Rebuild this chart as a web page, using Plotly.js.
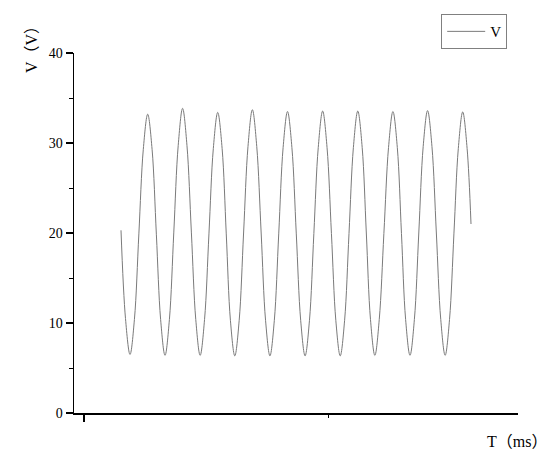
<!DOCTYPE html>
<html>
<head>
<meta charset="utf-8">
<script src="https://cdn.plot.ly/plotly-3.0.1.min.js"></script>
<style>html,body{margin:0;padding:0;background:#fff;}#chart{width:550px;height:466px;}</style>
</head>
<body>
<div id="chart"></div>
<script>
// Time (ms, arbitrary origin at first major tick) and voltage (V)
const tMs = [7.58, 8.5, 9.43, 10.33, 11.24, 12.15, 13.05, 13.95, 14.83, 15.7, 16.6, 17.5, 18.4, 19.3, 20.2, 21.1, 22.0, 22.9, 23.8, 24.7, 25.6, 26.5, 27.4, 28.3, 29.15, 30.0, 30.9, 31.8, 32.7, 33.6, 34.5, 35.4, 36.3, 37.2, 38.1, 39.0, 39.9, 40.8, 41.7, 42.6, 43.5, 44.4, 45.3, 46.2, 47.1, 48.0, 48.9, 49.8, 50.7, 51.6, 52.5, 53.4, 54.3, 55.2, 56.1, 57.0, 57.85, 58.7, 59.6, 60.5, 61.45, 62.4, 63.3, 64.2, 65.05, 65.9, 66.8, 67.7, 68.6, 69.5, 70.4, 71.3, 72.2, 73.1, 74.0, 74.9, 75.8, 76.7, 77.6, 78.5, 79.3];
const voltV = [20.3, 10.5, 6.5, 10.4, 19.9, 29.3, 33.2, 29.3, 19.8, 10.4, 6.4, 10.4, 20.1, 29.7, 33.85, 29.7, 20.1, 10.4, 6.4, 10.4, 19.9, 29.4, 33.4, 29.4, 19.9, 10.3, 6.35, 10.3, 20.0, 29.6, 33.7, 29.6, 20.0, 10.3, 6.35, 10.3, 19.9, 29.5, 33.5, 29.5, 19.9, 10.3, 6.35, 10.3, 19.95, 29.5, 33.55, 29.5, 19.95, 10.3, 6.35, 10.3, 19.95, 29.5, 33.55, 29.5, 20.0, 10.4, 6.4, 10.4, 19.95, 29.5, 33.5, 29.5, 19.95, 10.4, 6.4, 10.4, 20.0, 29.6, 33.6, 29.6, 20.0, 10.4, 6.4, 10.4, 19.9, 29.4, 33.45, 29.4, 21.0];
const yTicks = [0, 10, 20, 30, 40];
const seriesName = "V";
const xTitle = "T（ms）";
const yTitle = "V（V）";

const fontFam = "Liberation Serif, Noto Sans CJK SC, serif";

const trace = {
  x: tMs, y: voltV, type: "scatter", mode: "lines", name: seriesName,
  line: {color: "#7a7a7a", width: 1, shape: "spline", smoothing: 1}
};

const layout = {
  width: 550, height: 466,
  margin: {l: 74, r: 32, t: 53, b: 53},
  paper_bgcolor: "#fff", plot_bgcolor: "#fff",
  font: {family: fontFam, color: "#000", size: 14},
  showlegend: true,
  legend: {
    x: 0.827, y: 1.108, xanchor: "left", yanchor: "top",
    bordercolor: "#808080", borderwidth: 1, bgcolor: "#fff",
    font: {family: fontFam, size: 15, color: "#000"},
    itemwidth: 38
  },
  xaxis: {
    range: [-2.05, 88.93], showgrid: false, zeroline: false,
    showline: true, linecolor: "#000", linewidth: 1.5,
    ticks: "outside", ticklen: 7, tickwidth: 1.5, tickcolor: "#000",
    tick0: 0, dtick: 100, showticklabels: false,
    minor: {ticks: "outside", ticklen: 3, tickwidth: 1, tickcolor: "#000", dtick: 50, tick0: 0}
  },
  yaxis: {
    range: [0, 40], showgrid: false, zeroline: false,
    showline: true, linecolor: "#000", linewidth: 1.5,
    ticks: "outside", ticklen: 7, tickwidth: 1.5, tickcolor: "#000",
    tickvals: yTicks, ticktext: yTicks.map(String),
    tickfont: {family: fontFam, size: 14, color: "#000"},
    minor: {ticks: "outside", ticklen: 4, tickwidth: 1, tickcolor: "#000", dtick: 5, tick0: 0}
  },
  annotations: [
    {text: yTitle, xref: "paper", yref: "paper", x: -0.097, y: 1.022, textangle: -90,
     showarrow: false, xanchor: "center", yanchor: "middle", font: {family: fontFam, size: 16, color: "#000"}},
    {text: xTitle, xref: "paper", yref: "paper", x: 0.998, y: -0.078,
     showarrow: false, xanchor: "center", yanchor: "middle", font: {family: fontFam, size: 16, color: "#000"}}
  ]
};

Plotly.newPlot("chart", [trace], layout, {displayModeBar: false, staticPlot: true});
</script>
</body>
</html>
